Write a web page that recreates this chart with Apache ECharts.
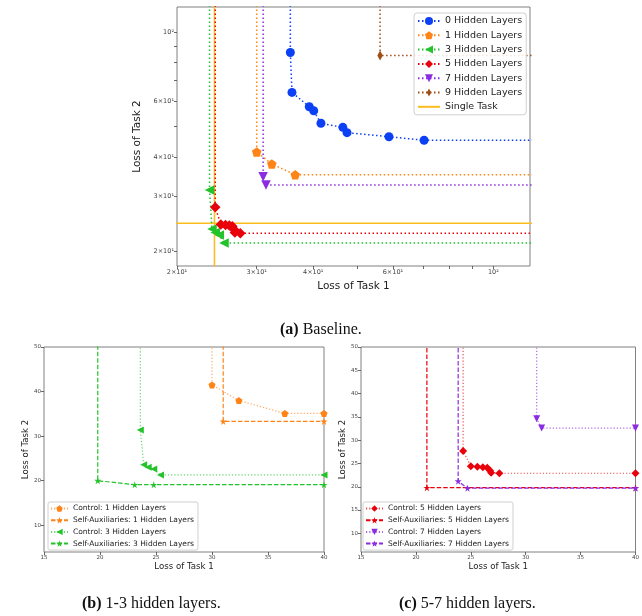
<!DOCTYPE html>
<html><head><meta charset="utf-8">
<script src="https://cdn.jsdelivr.net/npm/echarts@6/dist/echarts.min.js"></script>
<style>html,body{margin:0;padding:0;background:#fff}#c{width:642px;height:616px}</style>
</head><body><div id="c"></div>
<script>
// ---------- data ----------
// (a) Baseline: [loss task 1, loss task 2]
const base0 = [[35.6,86.0],[35.9,64.2],[39.2,57.8],[40.1,56.1],[41.6,51.2],[46.5,49.7],[47.5,47.8],[58.8,46.4],[70.3,45.2]];
const base1 = [[30.0,41.5],[32.4,38.0],[36.5,35.1]];
const base3 = [[23.6,31.4],[23.9,23.6],[24.3,23.0],[24.8,22.6],[25.4,21.3]];
const base5 = [[24.3,27.7],[25.0,24.4],[25.6,24.3],[26.1,24.2],[26.5,24.1],[26.75,23.5],[26.85,23.0],[27.6,22.9]];
const base7 = [[31.0,34.6],[31.45,32.6]];
const base9 = [[56.2,84.1]];
const singleTask = [24.2, 24.6]; // [task1, task2]
// (b),(c) self-auxiliaries
const selfAux1 = [[31.0,33.3]];
const selfAux3 = [[19.8,20.0],[23.1,19.1],[24.8,19.1]];
const selfAux5 = [[21.0,19.8]];
const selfAux7 = [[23.85,21.2],[24.7,19.7]];
// tick labels
const topTickVals = [20, 30, 40, 60, 100];
const topTickText = ['2×10¹', '3×10¹', '4×10¹', '6×10¹', '10²'];
const topTickMarks = [20, 30, 40, 50, 60, 70, 80, 90, 100];
const bTicksX = [15, 20, 25, 30, 35, 40];
const bTicksY = [10, 20, 30, 40, 50];
const cTicksY = [10, 15, 20, 25, 30, 35, 40, 45, 50];
const namesTop = ['0 Hidden Layers','1 Hidden Layers','3 Hidden Layers','5 Hidden Layers','7 Hidden Layers','9 Hidden Layers','Single Task'];
const namesB = ['Control: 1 Hidden Layers','Self-Auxiliaries: 1 Hidden Layers','Control: 3 Hidden Layers','Self-Auxiliaries: 3 Hidden Layers'];
const namesC = ['Control: 5 Hidden Layers','Self-Auxiliaries: 5 Hidden Layers','Control: 7 Hidden Layers','Self-Auxiliaries: 7 Hidden Layers'];

// ---------- styles ----------
const C = {blue:'#0b40f5', orange:'#ff8418', green:'#22c32b', red:'#e8000b', purple:'#8b2be2', brown:'#9c4f16', gold:'#fbbd1e'};
const SYM = {
  pent: 'path://M0,-1 L0.951,-0.309 L0.588,0.809 L-0.588,0.809 L-0.951,-0.309 Z',
  left: 'path://M-1,0 L1,-1 L1,1 Z',
  down: 'path://M-1,-1 L1,-1 L0,1 Z',
  thin: 'path://M0,-1 L0.55,0 L0,1 L-0.55,0 Z M-1,0 M1,0',
  star: 'path://M0,-1 L0.2245,-0.309 L0.951,-0.309 L0.363,0.118 L0.588,0.809 L0,0.382 L-0.588,0.809 L-0.363,0.118 L-0.951,-0.309 L-0.2245,-0.309 Z'
};
const DOT = [1.5, 2.5], DOT2 = [1.2, 2], DASH2 = [4.5, 2];

function frontier(name, pts, o) {
  const last = pts[pts.length - 1];
  const data = [{value: [pts[0][0], o.topY], symbol: 'none'}]
    .concat(pts.map(p => ({value: p})))
    .concat([o.edge ? {value: [o.rightX, last[1]]} : {value: [o.rightX, last[1]], symbol: 'none'}]);
  return {
    type: 'line', name, data, xAxisIndex: o.g, yAxisIndex: o.g,
    symbol: o.symbol, symbolSize: o.size, showSymbol: true,
    itemStyle: {color: o.color},
    lineStyle: {color: o.color, width: o.w, type: o.dash, opacity: o.lo || 1},
    emphasis: {disabled: true}, silent: true, animation: false, z: o.z || 2
  };
}

const series = [];
// single task lines (a)
series.push({type:'line', name:'Single Task', xAxisIndex:0, yAxisIndex:0, symbol:'circle', showSymbol:false,
  data:[[singleTask[0], 1], [singleTask[0], 1000]], lineStyle:{color:C.gold, width:1.5, type:'solid'}, itemStyle:{color:C.gold},
  emphasis:{disabled:true}, silent:true, animation:false, z:1});
series.push({type:'line', name:'Single Task', xAxisIndex:0, yAxisIndex:0, symbol:'circle', showSymbol:false,
  data:[[1, singleTask[1]], [1000, singleTask[1]]], lineStyle:{color:C.gold, width:1.5, type:'solid'}, itemStyle:{color:C.gold},
  emphasis:{disabled:true}, silent:true, animation:false, z:1});
const A = {g:0, topY:1000, rightX:1000, w:1.5, dash:DOT};
series.push(frontier(namesTop[0], base0, Object.assign({}, A, {color:C.blue, symbol:'circle', size:9})));
series.push(frontier(namesTop[1], base1, Object.assign({}, A, {color:C.orange, symbol:SYM.pent, size:9.5})));
series.push(frontier(namesTop[2], base3, Object.assign({}, A, {color:C.green, symbol:SYM.left, size:9.5})));
series.push(frontier(namesTop[3], base5, Object.assign({}, A, {color:C.red, symbol:'diamond', size:10.5})));
series.push(frontier(namesTop[4], base7, Object.assign({}, A, {color:C.purple, symbol:SYM.down, size:9.5})));
series.push(frontier(namesTop[5], base9, Object.assign({}, A, {color:C.brown, symbol:SYM.thin, size:10})));

const B = {g:1, topY:100, rightX:40, w:1.2, edge:true};
series.push(frontier(namesB[0], base1, Object.assign({}, B, {color:C.orange, symbol:SYM.pent, size:7, dash:DOT2, lo:0.7})));
series.push(frontier(namesB[1], selfAux1, Object.assign({}, B, {color:C.orange, symbol:SYM.star, size:7, dash:DASH2})));
series.push(frontier(namesB[2], base3, Object.assign({}, B, {color:C.green, symbol:SYM.left, size:7, dash:DOT2, lo:0.7})));
series.push(frontier(namesB[3], selfAux3, Object.assign({}, B, {color:C.green, symbol:SYM.star, size:7, dash:DASH2})));
const Cc = {g:2, topY:100, rightX:40, w:1.2, edge:true};
series.push(frontier(namesC[0], base5, Object.assign({}, Cc, {color:C.red, symbol:'diamond', size:8, dash:DOT2, lo:0.7})));
series.push(frontier(namesC[1], selfAux5, Object.assign({}, Cc, {color:C.red, symbol:SYM.star, size:7, dash:DASH2})));
series.push(frontier(namesC[2], base7, Object.assign({}, Cc, {color:C.purple, symbol:SYM.down, size:7, dash:DOT2, lo:0.7})));
series.push(frontier(namesC[3], selfAux7, Object.assign({}, Cc, {color:C.purple, symbol:SYM.star, size:7, dash:DASH2})));

const FONT = 'DejaVu Sans';
const tick = {show:true, length:3, lineStyle:{color:'#444', width:0.8}};
function axis(o) {
  return Object.assign({
    gridIndex:o.g, nameLocation:'middle', splitLine:{show:false}, axisLine:{show:false},
    nameTextStyle:{fontFamily:FONT, fontSize:o.nfs, color:'#222'},
    axisLabel:{fontFamily:FONT, fontSize:o.lfs, color:'#444', margin:3, customValues:o.labels,
      formatter:o.fmt || (v => String(v)), showMinLabel:true, showMaxLabel:true},
    axisTick:Object.assign({customValues:o.ticks}, tick)
  }, o.extra);
}
const topFmt = v => { const i = topTickVals.findIndex(t => Math.abs(t - v) < 1e-6); return i >= 0 ? topTickText[i] : ''; };

const option = {
  animation:false, backgroundColor:'#fff',
  grid:[
    {left:177, top:7, width:353, height:259, show:true, borderColor:'#808080', borderWidth:1, backgroundColor:'transparent'},
    {left:44, top:347, width:280, height:205, show:true, borderColor:'#808080', borderWidth:1, backgroundColor:'transparent'},
    {left:361, top:347, width:278, height:205, show:true, borderColor:'#808080', borderWidth:1, backgroundColor:'transparent'}
  ],
  xAxis:[
    axis({g:0, nfs:10.5, lfs:6.5, labels:topTickVals, ticks:topTickMarks, fmt:topFmt,
      extra:{type:'log', logBase:10, min:20, max:120.5, name:'Loss of Task 1', nameGap:15}}),
    axis({g:1, nfs:8.6, lfs:5.5, labels:bTicksX, ticks:bTicksX,
      extra:{type:'value', min:15, max:40, interval:5, name:'Loss of Task 1', nameGap:9}}),
    axis({g:2, nfs:8.6, lfs:5.5, labels:bTicksX, ticks:bTicksX,
      extra:{type:'value', min:15, max:40, interval:5, name:'Loss of Task 1', nameGap:9}})
  ],
  yAxis:[
    axis({g:0, nfs:10.5, lfs:6.5, labels:topTickVals, ticks:topTickMarks, fmt:topFmt,
      extra:{type:'log', logBase:10, min:18, max:120, name:'Loss of Task 2', nameGap:28}}),
    axis({g:1, nfs:8.6, lfs:5.5, labels:bTicksY, ticks:bTicksY,
      extra:{type:'value', min:4, max:50, name:'Loss of Task 2', nameGap:13}}),
    axis({g:2, nfs:8.6, lfs:5.5, labels:cTicksY, ticks:cTicksY,
      extra:{type:'value', min:6, max:50, name:'Loss of Task 2', nameGap:13}})
  ],
  legend:[
    {orient:'vertical', left:414, top:13, itemWidth:22, itemHeight:10, itemGap:4.3, padding:[3,4,3,3],
      borderColor:'#d0d0d0', borderWidth:1, borderRadius:3, backgroundColor:'rgba(255,255,255,0.85)', selectedMode:false,
      textStyle:{fontFamily:FONT, fontSize:9.5, color:'#222', lineHeight:10},
      data:namesTop.map(n => n === 'Single Task' ? {name:n, itemStyle:{opacity:0}} : n)},
    {orient:'vertical', left:48, top:502, itemWidth:17, itemHeight:8, itemGap:3.7, padding:[2.5,4,2.5,2],
      borderColor:'#d0d0d0', borderWidth:1, borderRadius:2, backgroundColor:'rgba(255,255,255,0.85)', selectedMode:false,
      textStyle:{fontFamily:FONT, fontSize:7.5, color:'#222', lineHeight:8}, data:namesB},
    {orient:'vertical', left:363, top:502, itemWidth:17, itemHeight:8, itemGap:3.7, padding:[2.5,4,2.5,2],
      borderColor:'#d0d0d0', borderWidth:1, borderRadius:2, backgroundColor:'rgba(255,255,255,0.85)', selectedMode:false,
      textStyle:{fontFamily:FONT, fontSize:7.5, color:'#222', lineHeight:8}, data:namesC}
  ],
  title:[
    {text:'{b|(a)} Baseline.', left:280, top:322, padding:0,
      textStyle:{fontFamily:'Liberation Serif', fontSize:16, fontWeight:'normal', color:'#111', rich:{b:{fontFamily:'Liberation Serif', fontSize:16, fontWeight:'bold', color:'#111'}}}},
    {text:'{b|(b)} 1-3 hidden layers.', left:82, top:596, padding:0,
      textStyle:{fontFamily:'Liberation Serif', fontSize:16, fontWeight:'normal', color:'#111', rich:{b:{fontFamily:'Liberation Serif', fontSize:16, fontWeight:'bold', color:'#111'}}}},
    {text:'{b|(c)} 5-7 hidden layers.', left:399, top:596, padding:0,
      textStyle:{fontFamily:'Liberation Serif', fontSize:16, fontWeight:'normal', color:'#111', rich:{b:{fontFamily:'Liberation Serif', fontSize:16, fontWeight:'bold', color:'#111'}}}}
  ],
  series
};
const chart = echarts.init(document.getElementById('c'), null, {renderer:'canvas'});
chart.setOption(option);
</script></body></html>
